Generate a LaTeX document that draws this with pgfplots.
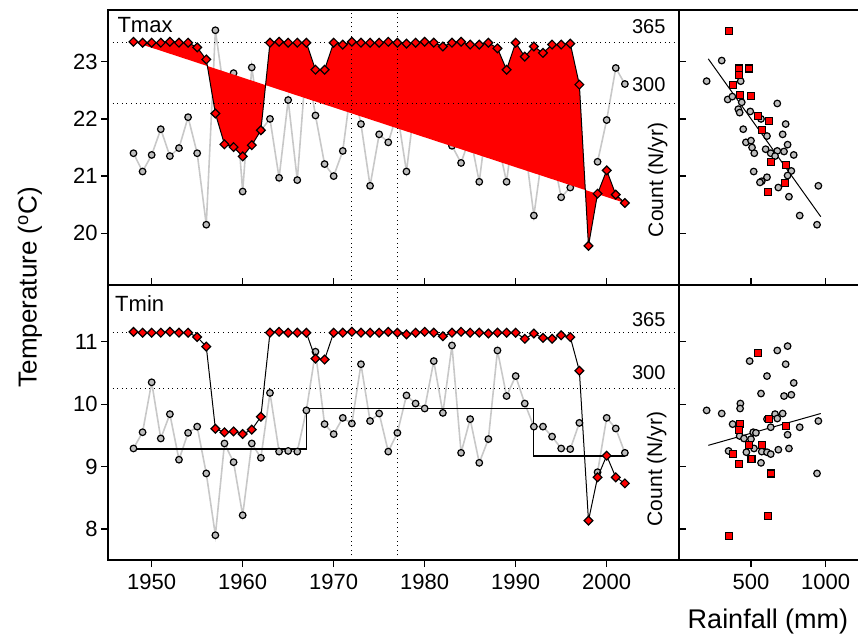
\documentclass[border=0pt]{standalone}
\usepackage{fontspec}
\setmainfont{Liberation Sans}
\usepackage{pgfplots}
\usepackage{pgfplotstable}
\pgfplotsset{compat=1.18}

\definecolor{ptgrey}{RGB}{190,190,190}
\definecolor{lngrey}{RGB}{200,200,200}

% year, Tmax, days Tmax, Tmin, days Tmin
\pgfplotstableread{
year tmax nmax tmin nmin
1948 21.40 366 9.29 366
1949 21.08 365 9.55 365
1950 21.37 365 10.35 365
1951 21.82 365 9.45 365
1952 21.35 366 9.84 366
1953 21.49 365 9.11 365
1954 22.03 365 9.54 365
1955 21.40 360 9.64 360
1956 20.15 347 8.89 349
1957 23.55 289 7.90 254
1958 22.42 256 9.37 250
1959 22.80 253 9.07 251
1960 20.73 243 8.22 248
1961 22.90 255 9.37 253
1962 21.80 271 9.14 268
1963 22.00 365 10.18 365
1964 20.97 366 9.24 366
1965 22.33 365 9.25 365
1966 20.93 365 9.24 365
1967 23.02 365 9.90 365
1968 22.06 336 10.84 335
1969 21.21 336 9.68 334
1970 21.00 365 9.52 365
1971 21.44 363 9.78 365
1972 22.66 366 9.69 366
1973 21.91 365 10.64 365
1974 20.83 365 9.73 365
1975 21.73 365 9.85 365
1976 21.59 366 9.24 366
1977 22.11 365 9.54 365
1978 21.08 364 10.14 363
1979 22.39 365 10.01 365
1980 21.78 366 9.93 366
1981 22.66 365 10.69 365
1982 22.29 361 9.86 361
1983 21.53 365 10.94 365
1984 21.23 366 9.22 366
1985 21.70 363 9.76 365
1986 20.90 363 9.06 365
1987 22.17 365 9.44 364
1988 21.62 359 10.86 365
1989 20.90 336 10.13 365
1990 22.13 365 10.45 365
1991 21.55 350 10.01 358
1992 20.31 361 9.64 364
1993 21.47 354 9.64 359
1994 21.43 363 9.48 358
1995 20.63 363 9.29 362
1996 20.80 364 9.28 360
1997 20.88 320 9.70 321
1998 nan 147 nan 148
1999 21.25 203 8.91 198
2000 21.98 228 9.78 223
2001 22.89 202 9.61 198
2002 22.61 193 9.22 191
}\series

\pgfplotstableread{
rain t
304 23.02
203 22.66
431 22.66
344 22.34
375 22.39
438 22.29
415 22.17
424 22.11
495 22.13
567 22.00
676 22.27
448 21.82
732 21.91
712 21.73
607 21.70
466 21.59
500 21.62
745 21.55
507 21.50
522 21.40
598 21.47
632 21.40
676 21.44
661 21.35
721 21.43
786 21.37
770 21.09
745 21.01
518 21.08
607 20.98
572 20.91
560 20.89
683 20.80
754 20.64
826 20.31
942 20.15
951 20.83
}\maxgrey

\pgfplotstableread{
rain t
353 23.54
420 22.88
420 22.77
485 22.88
379 22.59
426 22.42
500 22.40
549 22.05
618 21.96
576 21.80
634 21.24
734 21.19
727 20.88
616 20.72
}\maxred

\pgfplotstableread{
rain t
745 10.93
676 10.86
491 10.69
732 10.64
607 10.45
786 10.34
567 10.17
721 10.13
770 10.15
429 10.01
427 9.93
203 9.90
304 9.85
661 9.84
712 9.85
676 9.77
607 9.76
377 9.68
632 9.63
826 9.63
951 9.73
515 9.55
533 9.54
424 9.49
453 9.45
500 9.44
745 9.51
520 9.29
683 9.27
754 9.29
350 9.25
469 9.23
572 9.24
607 9.23
632 9.20
567 9.06
942 8.89
}\mingrey

\pgfplotstableread{
rain t
353 7.89
614 8.21
547 10.82
618 9.76
424 9.68
420 9.59
734 9.65
485 9.34
576 9.34
377 9.20
503 9.12
420 9.04
634 8.89
}\minred

\pgfplotsset{
  panel/.style={scale only axis, anchor=south west, height=137.5pt,
    axis line style={line width=0.75pt}, tick style={black, line width=0.6pt},
    major tick length=3.5pt,
    tick label style={font=\fontsize{11}{13}\selectfont},
    /pgf/number format/assume math mode=true,
    /pgf/number format/1000 sep={},
    yticklabel style={inner xsep=1.5pt}},
  left/.style={panel, width=285.5pt, xmin=1945.2, xmax=2007.95},
  right/.style={panel, width=90pt, xmin=18, xmax=1223},
  greyline/.style={lngrey, line width=0.8pt, mark=*, mark size=1.65pt,
    mark options={fill=ptgrey, draw=black, line width=0.6pt}},
  greypts/.style={only marks, mark=*, mark size=1.65pt,
    mark options={fill=ptgrey, draw=black, line width=0.6pt}},
  redpts/.style={only marks, mark=square*, mark size=1.75pt,
    mark options={fill=red, draw=black, line width=0.6pt}},
  diamonds/.style={black, line width=0.5pt, mark=square*, mark size=1.55pt,
    mark options={rotate=45, fill=red, draw=black, line width=0.6pt}},
  dotline/.style={black, line width=0.5pt, dash pattern=on 0.5pt off 1.8pt},
}

\begin{document}
\begin{tikzpicture}[font=\fontsize{11}{13}\selectfont]
\path[use as bounding box] (0,0) rectangle (429pt,319pt);

% ---- Tmax time series
\begin{axis}[left, at={(54pt,176.5pt)}, ymin=19.096, ymax=23.904,
  ytick={20,21,22,23}, xtick=\empty, ytick pos=left, tick align=outside,
  unbounded coords=jump]
\addplot[greyline] table[x=year,y=tmax]{\series};
\end{axis}
\begin{axis}[left, at={(54pt,176.5pt)}, ymin=105, ymax=400.1,
  hide x axis, hide y axis]
\addplot[fill=red, draw=none] table[x=year,y=nmax]{\series} -- cycle;
\addplot[diamonds] table[x=year,y=nmax]{\series};
\addplot[dotline] coordinates {(1945.2,365) (2007.95,365)};
\addplot[dotline] coordinates {(1945.2,300) (2007.95,300)};
\addplot[dotline] coordinates {(1972,105) (1972,400.1)};
\addplot[dotline] coordinates {(1977,105) (1977,400.1)};
\node[anchor=south east, inner sep=0, yshift=4.3pt, font=\fontsize{10}{12}\selectfont]
  at (axis cs:2006.5,365) {365};
\node[anchor=south east, inner sep=0, yshift=5.5pt, font=\fontsize{10}{12}\selectfont]
  at (axis cs:2006.5,300) {300};
\node[rotate=90, font=\fontsize{10.5}{12}\selectfont] at (axis cs:2005.6,217.7) {Count (N/yr)};
\node[anchor=north west, inner sep=0] at (rel axis cs:0.016,0.975) {Tmax};
\end{axis}

% ---- Tmin time series
\begin{axis}[left, at={(54pt,39pt)}, ymin=7.503, ymax=11.909,
  ytick={8,9,10,11}, xtick={1950,1960,1970,1980,1990,2000},
  xtick pos=both, ytick pos=left, tick align=outside, unbounded coords=jump]
\addplot[greyline] table[x=year,y=tmin]{\series};
\addplot[black, line width=0.6pt, const plot] coordinates
  {(1948,9.28) (1967,9.93) (1992,9.17) (2002,9.17)};
\end{axis}
\begin{axis}[left, at={(54pt,39pt)}, ymin=102.5, ymax=420.1,
  hide x axis, hide y axis]
\addplot[diamonds] table[x=year,y=nmin]{\series};
\addplot[dotline] coordinates {(1945.2,365) (2007.95,365)};
\addplot[dotline] coordinates {(1945.2,300) (2007.95,300)};
\addplot[dotline] coordinates {(1972,102.5) (1972,420.1)};
\addplot[dotline] coordinates {(1977,102.5) (1977,420.1)};
\node[anchor=south east, inner sep=0, yshift=3pt, font=\fontsize{10}{12}\selectfont]
  at (axis cs:2006.5,365) {365};
\node[anchor=south east, inner sep=0, yshift=4.5pt, font=\fontsize{10}{12}\selectfont]
  at (axis cs:2006.5,300) {300};
\node[rotate=90, font=\fontsize{10.5}{12}\selectfont] at (axis cs:2005.5,207.6) {Count (N/yr)};
\node[anchor=north west, inner sep=0] at (rel axis cs:0.012,0.964) {Tmin};
\end{axis}

% ---- Tmax vs rainfall
\begin{axis}[right, at={(339.5pt,176.5pt)}, ymin=19.096, ymax=23.904,
  ytick={20,21,22,23}, yticklabels={}, xtick={500,1000}, xticklabels={},
  xtick pos=bottom, ytick pos=left, tick align=inside]
\addplot[greypts] table[x=rain,y=t]{\maxgrey};
\addplot[redpts] table[x=rain,y=t]{\maxred};
\addplot[black, line width=0.5pt] coordinates {(214,23.05) (967,20.29)};
\end{axis}

% ---- Tmin vs rainfall
\begin{axis}[right, at={(339.5pt,39pt)}, ymin=7.503, ymax=11.909,
  ytick={8,9,10,11}, yticklabels={}, xtick=\empty,
  ytick pos=left, tick align=inside]
\addplot[greypts] table[x=rain,y=t]{\mingrey};
\addplot[redpts] table[x=rain,y=t]{\minred};
\addplot[black, line width=0.5pt] coordinates {(214,9.34) (967,9.85)};
\end{axis}
\begin{axis}[right, at={(339.5pt,39pt)}, ymin=7.503, ymax=11.909,
  hide y axis, xtick={500,1000}, xtick pos=bottom, tick align=outside]
\end{axis}

\node[rotate=90, font=\fontsize{13}{15}\selectfont] at (15pt,175.5pt) {Temperature (\textsuperscript{o}C)};
\node[font=\fontsize{13.5}{15}\selectfont] at (384pt,8pt) {Rainfall (mm)};
\end{tikzpicture}
\end{document}
